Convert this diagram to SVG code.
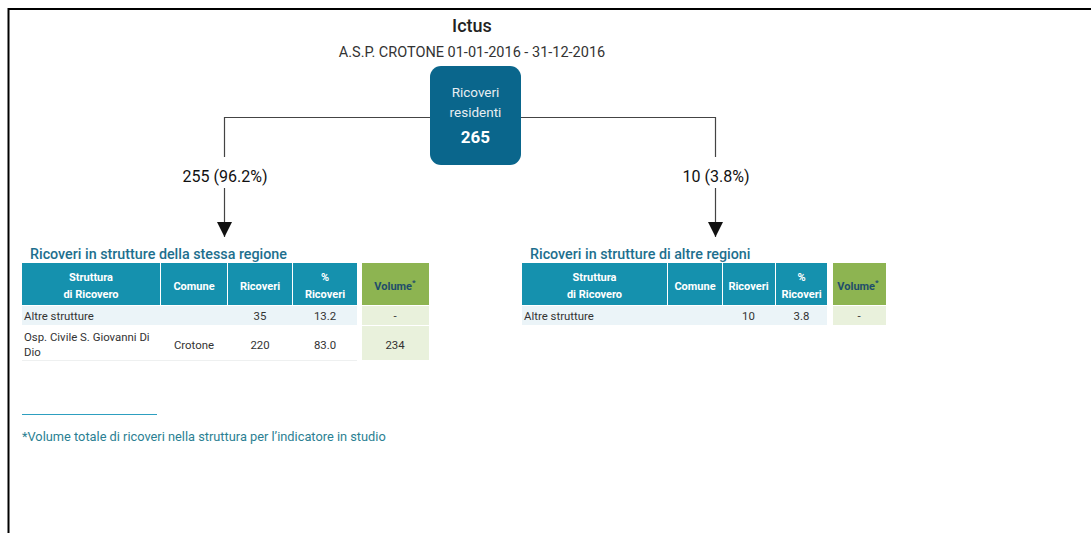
<svg xmlns="http://www.w3.org/2000/svg" width="1091" height="533" viewBox="0 0 1091 533">
<defs>
<style>
text{font-family:Roboto,"Liberation Sans",sans-serif}
.title{font-size:18px;font-weight:500;fill:#222}
.sub{font-size:14.5px;fill:#333}
.lbl{font-size:16px;fill:#111}
.sec{font-size:14.3px;font-weight:500;fill:#1e6f8e}
.hd{fill:#1591ae}
.hv{fill:#8db451}
.ht{font-size:11px;font-weight:700;fill:#fff;text-anchor:middle}
.hvt{font-size:11px;font-weight:700;fill:#1f4e6b;text-anchor:middle}
.r1{fill:#ebf4f8}
.vg{fill:#e9f1dc}
.td{font-size:11.4px;fill:#333}
.tc{font-size:11.4px;fill:#333;text-anchor:middle}
.conn{fill:none;stroke:#444;stroke-width:1.2}
</style>
<marker id="arr" viewBox="0 0 10 10" refX="10" refY="5" markerWidth="15" markerHeight="15" markerUnits="userSpaceOnUse" orient="auto">
<path d="M0,0 L10,5 L0,10 z" fill="#111"/>
</marker>
</defs>
<rect width="1091" height="533" fill="#fff"/>
<g id="frame">
<line x1="8" y1="9" x2="1091" y2="9" stroke="#000" stroke-width="2"/>
<line x1="8.5" y1="8" x2="8.5" y2="533" stroke="#000" stroke-width="2"/>
</g>
<g id="header">
<text class="title" x="472" y="32" text-anchor="middle">Ictus</text>
<text class="sub" x="472" y="57" text-anchor="middle">A.S.P. CROTONE 01-01-2016 - 31-12-2016</text>
</g>
<g id="connectors">
<path class="conn" d="M430,117.5 H224.5 V157"/>
<path class="conn" d="M224.5,188 V237" marker-end="url(#arr)"/>
<path class="conn" d="M521,117.5 H715.5 V157"/>
<path class="conn" d="M715.5,188 V237" marker-end="url(#arr)"/>
<text class="lbl" x="225" y="182" text-anchor="middle">255 (96.2%)</text>
<text class="lbl" x="716" y="182" text-anchor="middle">10 (3.8%)</text>
</g>
<g id="root">
<rect x="430" y="66" width="91" height="99" rx="11" fill="#0a668c"/>
<text x="475.5" y="97" font-size="13.5" fill="#e8eef2" text-anchor="middle">Ricoveri</text>
<text x="475.5" y="117" font-size="13.5" fill="#e8eef2" text-anchor="middle">residenti</text>
<text x="475.5" y="143" font-size="17" font-weight="700" fill="#fff" text-anchor="middle">265</text>
</g>
<g id="table-same-region">
<text class="sec" x="30" y="259">Ricoveri in strutture della stessa regione</text>
<rect class="hd" x="22" y="263" width="138" height="42"/>
<rect class="hd" x="161" y="263" width="66" height="42"/>
<rect class="hd" x="228" y="263" width="64" height="42"/>
<rect class="hd" x="293" y="263" width="64" height="42"/>
<rect class="hv" x="362" y="263" width="67" height="42"/>
<text class="ht" x="91" y="281">Struttura</text>
<text class="ht" x="91" y="298">di Ricovero</text>
<text class="ht" x="194" y="290">Comune</text>
<text class="ht" x="260" y="290">Ricoveri</text>
<text class="ht" x="325" y="281">%</text>
<text class="ht" x="325" y="298">Ricoveri</text>
<text class="hvt" x="395" y="290">Volume<tspan font-size="8" dy="-5">*</tspan></text>
<rect class="r1" x="22" y="306" width="335" height="19"/>
<rect class="vg" x="362" y="306" width="67" height="19"/>
<text class="td" x="24" y="320">Altre strutture</text>
<text class="tc" x="260" y="320">35</text>
<text class="tc" x="325" y="320">13.2</text>
<text class="tc" x="395" y="320">-</text>
<rect class="vg" x="362" y="326" width="67" height="34"/>
<line x1="22" y1="360.5" x2="357" y2="360.5" stroke="#eef0f0"/>
<text class="td" x="24" y="341">Osp. Civile S. Giovanni Di</text>
<text class="td" x="24" y="356">Dio</text>
<text class="tc" x="194" y="349">Crotone</text>
<text class="tc" x="260" y="349">220</text>
<text class="tc" x="325" y="349">83.0</text>
<text class="tc" x="395" y="349">234</text>
</g>
<g id="table-other-regions">
<text class="sec" x="530" y="259">Ricoveri in strutture di altre regioni</text>
<rect class="hd" x="522" y="263" width="145" height="42"/>
<rect class="hd" x="668" y="263" width="54" height="42"/>
<rect class="hd" x="723" y="263" width="52" height="42"/>
<rect class="hd" x="776" y="263" width="51" height="42"/>
<rect class="hv" x="833" y="263" width="53" height="42"/>
<text class="ht" x="594.5" y="281">Struttura</text>
<text class="ht" x="594.5" y="298">di Ricovero</text>
<text class="ht" x="695" y="290">Comune</text>
<text class="ht" x="748.5" y="290">Ricoveri</text>
<text class="ht" x="801.5" y="281">%</text>
<text class="ht" x="801.5" y="298">Ricoveri</text>
<text class="hvt" x="858" y="290">Volume<tspan font-size="8" dy="-5">*</tspan></text>
<rect class="r1" x="522" y="306" width="305" height="19"/>
<rect class="vg" x="833" y="306" width="53" height="19"/>
<text class="td" x="524" y="320">Altre strutture</text>
<text class="tc" x="748.5" y="320">10</text>
<text class="tc" x="801.5" y="320">3.8</text>
<text class="tc" x="859" y="320">-</text>
</g>
<g id="footnote">
<line x1="22" y1="414.5" x2="157" y2="414.5" stroke="#2d9fc0" stroke-width="1"/>
<text x="22" y="441" font-size="12.8" fill="#2b7f93">*Volume totale di ricoveri nella struttura per l’indicatore in studio</text>
</g>
</svg>
